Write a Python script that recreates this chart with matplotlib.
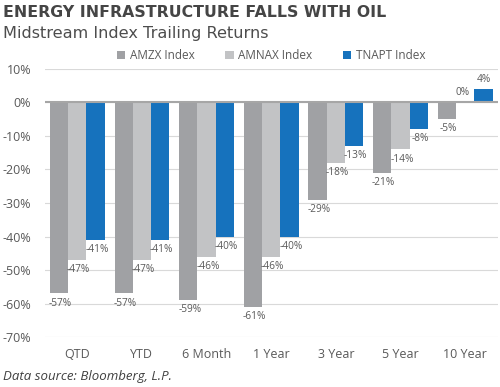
import numpy as np
import matplotlib.pyplot as plt

# data
categories = ['QTD', 'YTD', '6 Month', '1 Year', '3 Year', '5 Year', '10 Year']
amzx = [-57, -57, -59, -61, -29, -21, -5]
amnax = [-47, -47, -46, -46, -18, -14, 0]
tnapt = [-41, -41, -40, -40, -13, -8, 4]
series_names = ['AMZX Index', 'AMNAX Index', 'TNAPT Index']
colors = ['#A0A1A4', '#C2C3C5', '#1672BD']

text_col = '#595959'
plt.rcParams['font.family'] = ['Open Sans', 'DejaVu Sans']

fig = plt.figure(figsize=(5, 3.87), dpi=100)
ax = fig.add_axes([0.09, 0.129, 0.905, 0.693])

x = np.arange(len(categories))
w = 0.283
for k, (vals, name, c) in enumerate(zip([amzx, amnax, tnapt], series_names, colors)):
    pos = x + (k - 1) * w
    ax.bar(pos, vals, width=w, color=c, label=name, zorder=3)
    for px, v in zip(pos, vals):
        if v < 0:
            ax.annotate(f'{v}%', (px, v), xytext=(1, -3), textcoords='offset points',
                        ha='center', va='top', fontsize=7.3, color=text_col)
        else:
            ax.annotate(f'{v}%', (px, v), xytext=(-2 if v == 0 else 0, 3),
                        textcoords='offset points', ha='center', va='bottom',
                        fontsize=7.3, color=text_col)

ax.set_ylim(-70, 10)
ax.set_xlim(-0.5, 6.5)
ax.set_yticks(np.arange(-70, 11, 10))
ax.set_yticklabels([f'{t}%' for t in range(-70, 11, 10)])
ax.set_xticks(x)
ax.set_xticklabels(categories)
ax.tick_params(axis='both', length=0, labelsize=9, colors=text_col)
ax.tick_params(axis='y', pad=10)
ax.tick_params(axis='x', pad=8)
for s in ax.spines.values():
    s.set_visible(False)
ax.yaxis.grid(True, color='#D9D9D9', linewidth=0.8, zorder=0)
ax.axhline(0, color='#A6A6A6', linewidth=1.5, zorder=4)

ax.legend(loc='lower center', bbox_to_anchor=(0.5, 1.0), ncol=3, frameon=False,
          fontsize=8.5, handlelength=0.7, handleheight=0.7, handletextpad=0.4,
          columnspacing=2.6, labelcolor=text_col, borderaxespad=0.2)

fig.text(0.006, 0.968, 'ENERGY INFRASTRUCTURE FALLS WITH OIL', fontsize=11.3,
         fontweight='bold', color='#454545', va='center', ha='left',
         family='DejaVu Sans')
fig.text(0.006, 0.913, 'Midstream Index Trailing Returns', fontsize=11.6,
         color='#4D4D4D', va='center', ha='left', family='DejaVu Sans')
fig.text(0.006, 0.026, 'Data source: Bloomberg, L.P.', fontsize=9.5,
         style='italic', color='#404040', va='center', ha='left')

fig.savefig('out.png', dpi=100)
